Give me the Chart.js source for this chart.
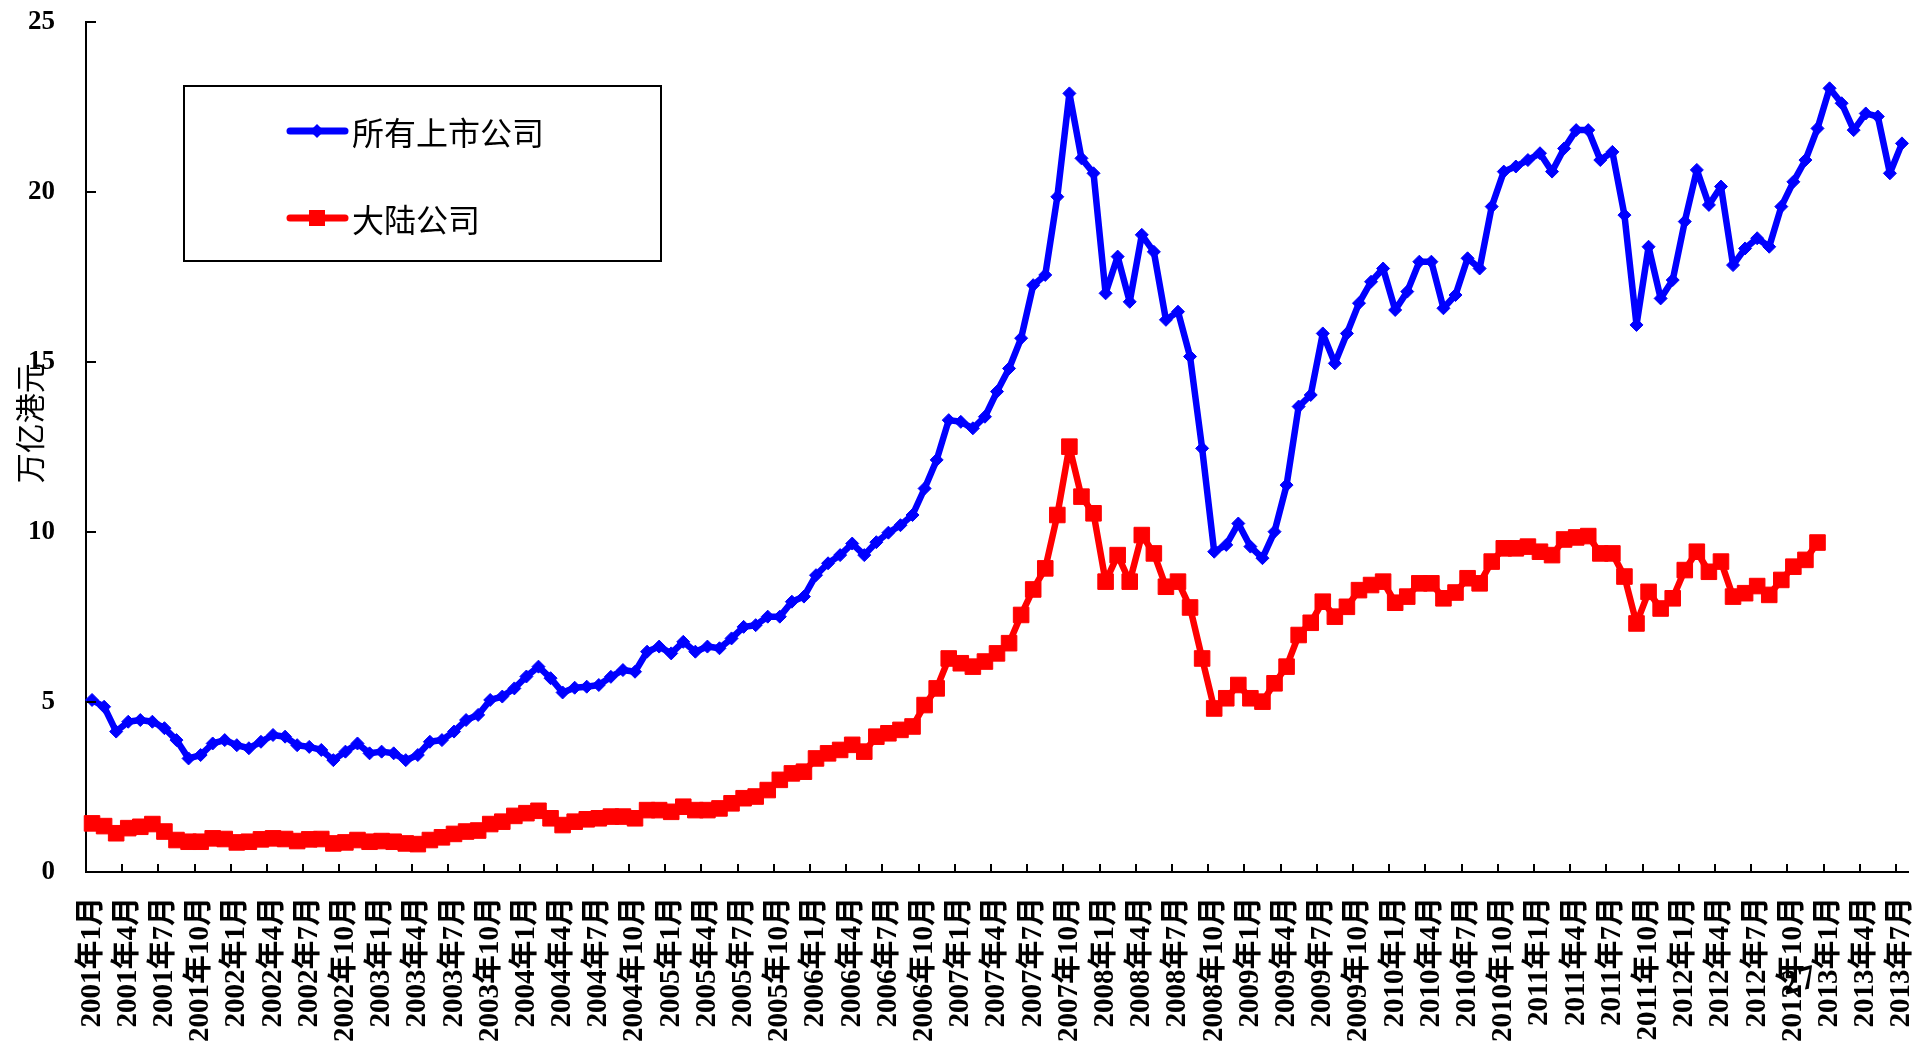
<!DOCTYPE html>
<html>
<head>
<meta charset="utf-8">
<script src="https://cdn.jsdelivr.net/npm/chart.js@4.4.1/dist/chart.umd.min.js"></script>
<style>
html,body{margin:0;padding:0;background:#fff;}
#wrap{width:1920px;height:1044px;position:relative;}
</style>
</head>
<body>
<div id="wrap"><canvas id="c"></canvas></div>
<script>
// ---- data ----
const startYear = 2001, endYear = 2013, endMonth = 7;
const categories = [];
for (let y = startYear; y <= endYear; y++) {
  for (let m = 1; m <= 12; m++) {
    if (y === endYear && m > endMonth) break;
    categories.push(y + '年' + m + '月');
  }
}
const seriesNames = ['所有上市公司', '大陆公司'];
const allListed = [
  5.06,4.86,4.13,4.42,4.47,4.42,4.23,3.88,3.34,3.44,3.78,3.88,
  3.73,3.64,3.83,4.03,3.98,3.73,3.68,3.59,3.29,3.54,3.78,3.49,
  3.54,3.49,3.29,3.44,3.83,3.88,4.13,4.47,4.62,5.06,5.16,5.40,
  5.75,6.04,5.70,5.28,5.42,5.45,5.50,5.74,5.94,5.89,6.48,6.63,
  6.43,6.77,6.48,6.63,6.58,6.87,7.21,7.26,7.51,7.51,7.95,8.10,
  8.73,9.08,9.32,9.66,9.32,9.70,9.98,10.2,10.5,11.28,12.12,13.29,
  13.24,13.05,13.39,14.13,14.81,15.70,17.26,17.56,19.86,22.90,20.99,20.55,
  17.02,18.10,16.77,18.74,18.24,16.24,16.48,15.16,12.46,9.42,9.62,10.25,
  9.57,9.23,10.01,11.38,13.69,14.03,15.84,14.96,15.84,16.73,17.36,17.75,
  16.53,17.07,17.95,17.95,16.58,16.97,18.05,17.75,19.57,20.60,20.75,20.94,
  21.14,20.60,21.28,21.82,21.82,20.94,21.18,19.32,16.09,18.39,16.87,17.41,
  19.13,20.65,19.62,20.16,17.85,18.34,18.64,18.39,19.57,20.30,20.94,21.87,
  23.05,22.61,21.82,22.31,22.22,20.55,21.43
];
const mainland = [
  1.43,1.35,1.14,1.29,1.33,1.41,1.19,0.94,0.89,0.89,0.99,0.97,
  0.87,0.89,0.96,0.99,0.97,0.91,0.96,0.97,0.84,0.87,0.94,0.89,
  0.91,0.89,0.84,0.82,0.94,1.02,1.12,1.19,1.22,1.41,1.48,1.65,
  1.73,1.80,1.58,1.38,1.48,1.55,1.58,1.63,1.63,1.58,1.82,1.82,
  1.77,1.92,1.82,1.82,1.87,2.02,2.17,2.22,2.41,2.71,2.90,2.95,
  3.34,3.49,3.59,3.74,3.54,3.98,4.08,4.18,4.28,4.91,5.40,6.28,
  6.14,6.04,6.19,6.43,6.73,7.56,8.31,8.93,10.50,12.51,11.04,10.55,
  8.54,9.32,8.54,9.91,9.37,8.39,8.54,7.78,6.28,4.81,5.11,5.50,
  5.11,5.01,5.55,6.04,6.97,7.33,7.95,7.51,7.80,8.29,8.44,8.54,
  7.92,8.10,8.49,8.49,8.05,8.22,8.64,8.49,9.13,9.52,9.52,9.57,
  9.42,9.32,9.78,9.84,9.88,9.37,9.37,8.69,7.31,8.24,7.75,8.05,
  8.88,9.42,8.83,9.13,8.10,8.20,8.41,8.15,8.59,8.98,9.18,9.69
];
const yTickValues = [0, 5, 10, 15, 20, 25];
const yTitle = '万亿港元';
const labelEvery = 3;
const strayNote = '27';

// ---- plugins ----
const extras = {
  id: 'extras',
  afterDraw(chart) {
    const {ctx, scales: {x, y}} = chart;
    const left = chart.chartArea.left, bottom = chart.chartArea.bottom;
    ctx.save();
    ctx.strokeStyle = '#000';
    ctx.lineWidth = 2;
    yTickValues.forEach(v => {
      const py = Math.round(y.getPixelForValue(v));
      ctx.beginPath(); ctx.moveTo(left, py); ctx.lineTo(left + 10, py); ctx.stroke();
    });
    const half = (x.getPixelForValue(1) - x.getPixelForValue(0)) / 2;
    for (let i = labelEvery; i < categories.length; i += labelEvery) {
      const px = Math.round(x.getPixelForValue(i) - half);
      ctx.beginPath(); ctx.moveTo(px, bottom); ctx.lineTo(px, bottom - 8); ctx.stroke();
    }
    // y-axis title (overlaps the 15 label, as in the source)
    ctx.save();
    ctx.translate(30, y.getPixelForValue(13.2));
    ctx.rotate(-Math.PI / 2);
    ctx.fillStyle = '#000';
    ctx.font = '30px "Noto Sans CJK SC"';
    ctx.textAlign = 'center';
    ctx.textBaseline = 'middle';
    ctx.fillText(yTitle, 0, 0);
    ctx.restore();
    // stray mark near the 2012年10月 label
    const sx = x.getPixelForValue(categories.indexOf('2012年10月'));
    ctx.save();
    ctx.translate(sx + 6, bottom + 110);
    ctx.rotate(-0.25);
    ctx.fillStyle = '#000';
    ctx.font = 'bold 34px "Liberation Serif"';
    ctx.textAlign = 'center';
    ctx.textBaseline = 'middle';
    ctx.fillText(strayNote, 0, 0);
    ctx.restore();
    ctx.restore();
  }
};

const boxLegend = {
  id: 'boxLegend',
  afterDraw(chart) {
    const ctx = chart.ctx;
    const bx = 184, by = 86, bw = 477, bh = 175;
    ctx.save();
    ctx.fillStyle = '#fff';
    ctx.fillRect(bx, by, bw, bh);
    ctx.strokeStyle = '#000';
    ctx.lineWidth = 2;
    ctx.strokeRect(bx, by, bw, bh);
    const rows = [131, 218];
    chart.data.datasets.forEach((ds, i) => {
      const yy = rows[i];
      ctx.strokeStyle = ds.borderColor;
      ctx.lineWidth = 7;
      ctx.lineCap = 'round';
      ctx.beginPath(); ctx.moveTo(290, yy); ctx.lineTo(345, yy); ctx.stroke();
      ctx.fillStyle = ds.borderColor;
      if (ds.pointStyle === 'rectRot') {
        const r = 7;
        ctx.beginPath();
        ctx.moveTo(317 - r, yy); ctx.lineTo(317, yy - r); ctx.lineTo(317 + r, yy); ctx.lineTo(317, yy + r);
        ctx.closePath(); ctx.fill();
      } else {
        ctx.fillRect(317 - 8, yy - 8, 16, 16);
      }
      ctx.fillStyle = '#000';
      ctx.font = '32px "Noto Sans CJK SC"';
      ctx.textAlign = 'left';
      ctx.textBaseline = 'middle';
      ctx.fillText(ds.label, 352, yy + 2);
    });
    ctx.restore();
  }
};

new Chart(document.getElementById('c'), {
  type: 'line',
  data: {
    labels: categories,
    datasets: [
      {
        label: seriesNames[0],
        data: allListed,
        borderColor: '#0000FF',
        backgroundColor: '#0000FF',
        borderWidth: 6.5,
        borderCapStyle: 'round',
        borderJoinStyle: 'round',
        pointStyle: 'rectRot',
        pointRadius: 6.5,
        pointBorderWidth: 1,
        pointBorderColor: '#0000FF',
        pointBackgroundColor: '#0000FF',
        tension: 0
      },
      {
        label: seriesNames[1],
        data: mainland,
        borderColor: '#FF0000',
        backgroundColor: '#FF0000',
        borderWidth: 6.5,
        borderCapStyle: 'round',
        borderJoinStyle: 'round',
        pointStyle: 'rect',
        pointRadius: 11,
        pointBorderWidth: 1,
        pointBorderColor: '#FF0000',
        pointBackgroundColor: '#FF0000',
        tension: 0
      }
    ]
  },
  options: {
    responsive: true,
    maintainAspectRatio: false,
    devicePixelRatio: 1,
    animation: false,
    layout: { padding: { top: 22, right: 12, left: 0, bottom: 0 } },
    plugins: {
      legend: { display: false },
      tooltip: { enabled: false }
    },
    scales: {
      x: {
        type: 'category',
        offset: true,
        grid: { display: false, drawTicks: false, offset: true },
        border: { display: true, color: '#000', width: 2 },
        ticks: {
          autoSkip: false,
          minRotation: 90,
          maxRotation: 90,
          padding: 25,
          color: '#000',
          font: { family: '"Liberation Serif", "Noto Sans CJK SC"', size: 29, weight: 'bold' },
          callback: function(v, i) { return i % labelEvery === 0 ? this.getLabelForValue(v) : null; }
        },
        afterFit(scale) { scale.height = 172; scale.paddingLeft = 0; scale.paddingRight = 0; }
      },
      y: {
        min: 0,
        max: 25,
        afterBuildTicks(scale) { scale.ticks = yTickValues.map(v => ({ value: v })); },
        grid: { display: false, drawTicks: false },
        border: { display: true, color: '#000', width: 2 },
        ticks: {
          padding: 31,
          color: '#000',
          font: { family: '"Liberation Serif"', size: 27, weight: 'bold' }
        },
        title: { display: false },
        afterFit(scale) { scale.width = 86; scale.paddingTop = 0; scale.paddingBottom = 0; }
      }
    }
  },
  plugins: [extras, boxLegend]
});
</script>
</body>
</html>
